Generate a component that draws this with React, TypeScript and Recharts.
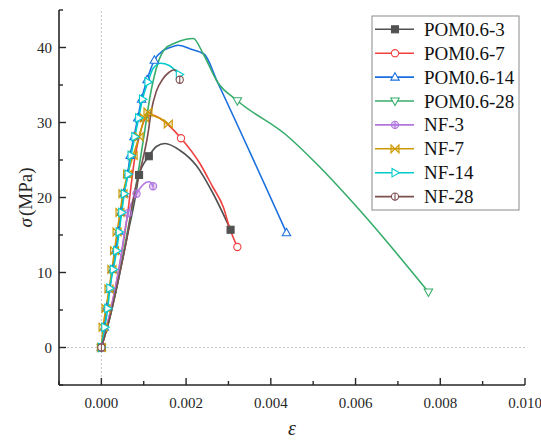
import { Label, Line, LineChart, ReferenceLine, XAxis, YAxis } from 'recharts'

const FONT = '"Liberation Serif", "Times New Roman", serif'
const INK = '#262626'

// axis ticks
const xTicks = [-0.001, 0, 0.001, 0.002, 0.003, 0.004, 0.005, 0.006, 0.007, 0.008, 0.009, 0.01]
const yTicks = [-5, 0, 5, 10, 15, 20, 25, 30, 35, 40, 45]

// POM0.6-3
const pom3Strain = [0, 0.0002, 0.0004, 0.0006, 0.0008, 0.00089, 0.00112, 0.0013, 0.0015, 0.00185, 0.00225, 0.00264, 0.00305]
const pom3Stress = [0, 4, 9, 14.5, 20, 23, 25.5, 26.8, 27.2, 26.3, 24.2, 20.5, 15.7]
const pom3Marks = [0, 5, 6, 12]

// POM0.6-7
const pom7Strain = [0, 0.0002, 0.0004, 0.0006, 0.00079, 0.00091, 0.00105, 0.0012, 0.0014, 0.00188, 0.00233, 0.00262, 0.00288, 0.00303, 0.00321]
const pom7Stress = [0, 4.5, 10, 17, 25.3, 28.5, 30.6, 31, 30.5, 27.9, 24.5, 21.5, 18.7, 15.9, 13.4]
const pom7Marks = [0, 9, 14]

// POM0.6-14
const pom14Strain = [0, 0.00007, 0.00012, 0.0002, 0.00026, 0.00033, 0.00041, 0.00046, 0.00053, 0.00062, 0.00068, 0.00077, 0.00086, 0.00095, 0.00108, 0.00125, 0.00146, 0.00162, 0.00181, 0.0021, 0.00243, 0.00274, 0.00437]
const pom14Stress = [0, 2.7, 5.3, 7.8, 10.4, 12.9, 15.5, 18, 20.5, 23.1, 25.6, 28.1, 30.6, 33.1, 35.7, 38.3, 39.6, 40, 40.3, 39.8, 39.1, 35.4, 15.3]
const pom14Marks = [0, 1, 2, 3, 4, 5, 6, 7, 8, 9, 10, 11, 12, 13, 14, 15, 22]

// POM0.6-28
const pom28Strain = [0, 0.0002, 0.0004, 0.0006, 0.0008, 0.001, 0.00115, 0.00134, 0.0015, 0.00174, 0.002, 0.00217, 0.0024, 0.00274, 0.00321, 0.00437, 0.00508, 0.0061, 0.00772]
const pom28Stress = [0, 4, 9, 15, 21, 28, 33.5, 38, 39.8, 40.6, 41.1, 41.2, 39.2, 35.4, 32.9, 28.3, 24.5, 18.3, 7.4]
const pom28Marks = [0, 14, 18]

// NF-3
const nf3Strain = [0, 0.0002, 0.0004, 0.00063, 0.00083, 0.00095, 0.00105, 0.00113, 0.00122]
const nf3Stress = [0, 4.5, 10, 17.9, 20.5, 21.5, 22, 22.1, 21.5]
const nf3Marks = [0, 3, 4, 8]

// NF-7
const nf7Strain = [0, 0.00004, 0.00011, 0.00018, 0.00025, 0.00031, 0.00037, 0.00044, 0.00051, 0.00062, 0.00075, 0.00089, 0.00102, 0.0011, 0.0012, 0.0014, 0.00158]
const nf7Stress = [0, 2.7, 5.2, 7.8, 10.4, 12.9, 15.4, 18, 20.5, 23.1, 25.6, 28.1, 30.6, 31.4, 31, 30.5, 29.8]
const nf7Marks = [0, 1, 2, 3, 4, 5, 6, 7, 8, 9, 10, 11, 12, 13, 16]

// NF-14
const nf14Strain = [0, 0.00008, 0.00015, 0.0002, 0.00028, 0.00036, 0.00042, 0.00048, 0.00054, 0.00063, 0.0007, 0.00079, 0.00088, 0.00097, 0.0011, 0.00122, 0.0014, 0.0016, 0.00184]
const nf14Stress = [0, 2.7, 5.2, 7.9, 10.4, 12.9, 15.4, 18, 20.5, 23.1, 25.6, 28.1, 30.6, 33.1, 35.4, 37.2, 37.9, 37.6, 36.4]
const nf14Marks = [0, 1, 2, 3, 4, 5, 6, 7, 8, 9, 10, 11, 12, 13, 14, 18]

// NF-28
const nf28Strain = [0, 0.0002, 0.0004, 0.0006, 0.00079, 0.00091, 0.0011, 0.00118, 0.0013, 0.00145, 0.0016, 0.0017, 0.00178, 0.00185]
const nf28Stress = [0, 4, 9, 14.5, 20.9, 23.5, 28.5, 31.6, 34.2, 35.8, 36.7, 37, 36.9, 35.7]
const nf28Marks = [0, 13]

type Shape = 'square' | 'circle' | 'triUp' | 'triDown' | 'circleBarFill' | 'bowtie' | 'triRight' | 'circleBar'

const toRows = (strain: number[], stress: number[]) => strain.map((e, i) => ({ e, s: stress[i] }))

const SERIES: { name: string; color: string; shape: Shape; rows: { e: number; s: number }[]; marks: number[] }[] = [
  { name: 'POM0.6-3', color: '#515151', shape: 'square', rows: toRows(pom3Strain, pom3Stress), marks: pom3Marks },
  { name: 'POM0.6-7', color: '#F14040', shape: 'circle', rows: toRows(pom7Strain, pom7Stress), marks: pom7Marks },
  { name: 'POM0.6-14', color: '#1A6FDF', shape: 'triUp', rows: toRows(pom14Strain, pom14Stress), marks: pom14Marks },
  { name: 'POM0.6-28', color: '#37AD6B', shape: 'triDown', rows: toRows(pom28Strain, pom28Stress), marks: pom28Marks },
  { name: 'NF-3', color: '#B177DE', shape: 'circleBarFill', rows: toRows(nf3Strain, nf3Stress), marks: nf3Marks },
  { name: 'NF-7', color: '#CC9900', shape: 'bowtie', rows: toRows(nf7Strain, nf7Stress), marks: nf7Marks },
  { name: 'NF-14', color: '#00CBCC', shape: 'triRight', rows: toRows(nf14Strain, nf14Stress), marks: nf14Marks },
  { name: 'NF-28', color: '#7D4E4E', shape: 'circleBar', rows: toRows(nf28Strain, nf28Stress), marks: nf28Marks },
]

function Marker({ cx, cy, shape, color }: { cx: number; cy: number; shape: Shape; color: string }) {
  const sw = 1.1
  switch (shape) {
    case 'square':
      return <rect x={cx - 3.5} y={cy - 3.5} width={7} height={7} fill={color} stroke={color} strokeWidth={sw} />
    case 'circle':
      return <circle cx={cx} cy={cy} r={3.6} fill="#fff" stroke={color} strokeWidth={sw} />
    case 'triUp':
      return <polygon points={`${cx},${cy - 4.4} ${cx + 4.2},${cy + 3} ${cx - 4.2},${cy + 3}`} fill="#fff" stroke={color} strokeWidth={sw} />
    case 'triDown':
      return <polygon points={`${cx},${cy + 4.4} ${cx + 4.2},${cy - 3} ${cx - 4.2},${cy - 3}`} fill="#fff" stroke={color} strokeWidth={sw} />
    case 'triRight':
      return <polygon points={`${cx + 4.4},${cy} ${cx - 3},${cy - 4.2} ${cx - 3},${cy + 4.2}`} fill="#fff" stroke={color} strokeWidth={sw} />
    case 'bowtie':
      return (
        <path
          d={`M${cx - 4},${cy - 4} L${cx + 4},${cy + 4} L${cx + 4},${cy - 4} L${cx - 4},${cy + 4} Z`}
          fill={color}
          fillOpacity={0.25}
          stroke={color}
          strokeWidth={sw}
        />
      )
    case 'circleBarFill':
      return (
        <g>
          <circle cx={cx} cy={cy} r={3.6} fill={color} fillOpacity={0.35} stroke={color} strokeWidth={sw} />
          <line x1={cx} x2={cx} y1={cy - 3.6} y2={cy + 3.6} stroke={color} strokeWidth={sw} />
        </g>
      )
    default:
      return (
        <g>
          <circle cx={cx} cy={cy} r={3.6} fill="#fff" stroke={color} strokeWidth={sw} />
          <line x1={cx} x2={cx} y1={cy - 3.6} y2={cy + 3.6} stroke={color} strokeWidth={sw} />
        </g>
      )
  }
}

const tickText = { fontFamily: FONT, fontSize: 15, fill: INK }

function BottomTick({ x, y, payload }: any) {
  const major = Math.round(payload.value * 1000) % 2 === 0
  return (
    <g>
      <line x1={x} x2={x} y1={y} y2={y - (major ? 7 : 4)} stroke={INK} strokeWidth={1.4} />
      {major && (
        <text x={x} y={y + 23} textAnchor="middle" {...tickText}>
          {payload.value.toFixed(3)}
        </text>
      )}
    </g>
  )
}

function TopTick({ x, y, payload }: any) {
  const major = Math.round(payload.value * 1000) % 2 === 0
  return <line x1={x} x2={x} y1={y} y2={y + (major ? 7 : 4)} stroke={INK} strokeWidth={1.4} />
}

function LeftTick({ x, y, payload }: any) {
  const major = payload.value % 10 === 0
  return (
    <g>
      <line x1={x} x2={x + (major ? 7 : 4)} y1={y} y2={y} stroke={INK} strokeWidth={1.4} />
      {major && (
        <text x={x - 7} y={y + 5} textAnchor="end" {...tickText}>
          {payload.value}
        </text>
      )}
    </g>
  )
}

function RightTick({ x, y, payload }: any) {
  const major = payload.value % 10 === 0
  return <line x1={x} x2={x - (major ? 7 : 4)} y1={y} y2={y} stroke={INK} strokeWidth={1.4} />
}

function YTitle({ viewBox }: any) {
  const cx = viewBox.x + 25
  const cy = viewBox.y + viewBox.height / 2
  return (
    <text x={cx} y={cy} transform={`rotate(-90 ${cx} ${cy})`} textAnchor="middle" dominantBaseline="central" fontFamily={FONT} fontSize={19} fill={INK}>
      <tspan fontStyle="italic">σ</tspan>
      <tspan dx={2}>(MPa)</tspan>
    </text>
  )
}

function XTitle({ viewBox }: any) {
  return (
    <text x={viewBox.x + viewBox.width / 2} y={viewBox.y + 50} textAnchor="middle" fontFamily={FONT} fontSize={20} fontStyle="italic" fill={INK}>
      ε
    </text>
  )
}

function LegendBox() {
  return (
    <svg width={149} height={197} style={{ position: 'absolute', left: 371, top: 15 }}>
      <rect x={1} y={1} width={147} height={194} fill="#fff" stroke="#8a8a8a" strokeWidth={1} />
      {SERIES.map((s, i) => {
        const y = 14.3 + i * 23.9
        return (
          <g key={s.name}>
            <line x1={4} x2={43} y1={y} y2={y} stroke={s.color} strokeWidth={1.6} />
            <Marker cx={24} cy={y} shape={s.shape} color={s.color} />
            <text x={53} y={y + 6.5} fontFamily={FONT} fontSize={19} fill="#111">
              {s.name}
            </text>
          </g>
        )
      })}
    </svg>
  )
}

export default function App() {
  const axisLine = { stroke: INK, strokeWidth: 1.6 }
  return (
    <div style={{ position: 'absolute', left: 0, top: 0, width: 541, height: 443, background: '#fff' }}>
      <LineChart width={541} height={443} margin={{ top: 10, right: 16, bottom: 0, left: 0 }}>
        <XAxis
          dataKey="e"
          type="number"
          domain={[-0.001, 0.01]}
          ticks={xTicks}
          interval={0}
          height={58}
          tickLine={false}
          tickSize={0}
          tickMargin={0}
          tick={<BottomTick />}
          axisLine={axisLine}
          allowDataOverflow
        >
          <Label content={<XTitle />} />
        </XAxis>
        <XAxis
          xAxisId="top"
          orientation="top"
          type="number"
          domain={[-0.001, 0.01]}
          ticks={xTicks}
          interval={0}
          height={0}
          tickLine={false}
          tickSize={0}
          tickMargin={0}
          tick={<TopTick />}
          axisLine={axisLine}
        />
        <YAxis
          type="number"
          domain={[-5, 45]}
          ticks={yTicks}
          interval={0}
          width={59}
          tickLine={false}
          tickSize={0}
          tickMargin={0}
          tick={<LeftTick />}
          axisLine={axisLine}
          allowDataOverflow
        >
          <Label content={<YTitle />} />
        </YAxis>
        <YAxis
          yAxisId="right"
          orientation="right"
          type="number"
          domain={[-5, 45]}
          ticks={yTicks}
          interval={0}
          width={0}
          tickLine={false}
          tickSize={0}
          tickMargin={0}
          tick={<RightTick />}
          axisLine={axisLine}
        />
        <ReferenceLine x={0} stroke="#c4c4c4" strokeDasharray="2 2" />
        <ReferenceLine y={0} stroke="#c4c4c4" strokeDasharray="2 2" />
        {SERIES.map((s) => (
          <Line
            key={s.name}
            data={s.rows}
            dataKey="s"
            name={s.name}
            type="monotone"
            stroke={s.color}
            strokeWidth={1.6}
            isAnimationActive={false}
            activeDot={false}
            dot={(p: any) =>
              s.marks.includes(p.index) ? (
                <Marker key={`${s.name}-${p.index}`} cx={p.cx} cy={p.cy} shape={s.shape} color={s.color} />
              ) : (
                <g key={`${s.name}-${p.index}`} />
              )
            }
          />
        ))}
      </LineChart>
      <LegendBox />
    </div>
  )
}
